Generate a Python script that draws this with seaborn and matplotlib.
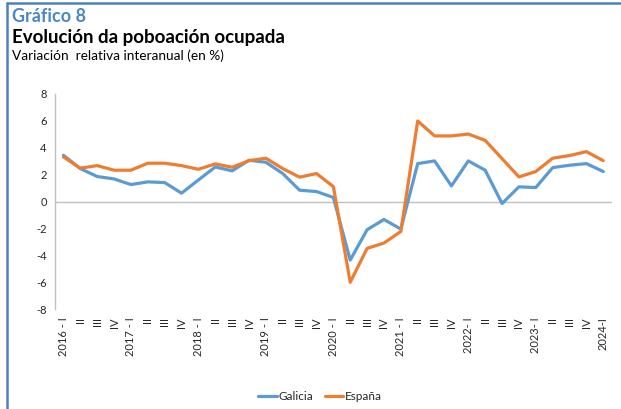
import matplotlib
matplotlib.use("Agg")
import matplotlib.pyplot as plt
import pandas as pd
import seaborn as sns
from matplotlib.lines import Line2D

# quarterly labels 2016-I .. 2024-I
quarters = ["2016 - I", "II", "III", "IV",
            "2017 - I", "II", "III", "IV",
            "2018 - I", "II", "III", "IV",
            "2019 - I", "II", "III", "IV",
            "2020 - I", "II", "III", "IV",
            "2021 - I", "II", "III", "IV",
            "2022- I", "II", "III", "IV",
            "2023- I", "II", "III", "IV",
            "2024-I"]

galicia = [3.44, 2.45, 1.86, 1.68, 1.26, 1.46, 1.41, 0.62,
           1.60, 2.57, 2.28, 3.07, 2.92, 2.08, 0.84, 0.74,
           0.30, -4.36, -2.10, -1.34, -2.05, 2.82, 3.02, 1.16,
           3.02, 2.33, -0.15, 1.09, 1.04, 2.52, 2.70, 2.82,
           2.23]

espana = [3.32, 2.48, 2.67, 2.33, 2.33, 2.85, 2.85, 2.67,
          2.40, 2.80, 2.55, 3.04, 3.22, 2.45, 1.81, 2.08,
          1.11, -6.01, -3.49, -3.09, -2.23, 5.99, 4.88, 4.88,
          5.02, 4.55, 3.19, 1.83, 2.23, 3.22, 3.42, 3.71,
          3.04]

series_names = ["Galicia", "España"]
colors = ["#5B9BD5", "#ED7D31"]

df = pd.DataFrame({"t": list(range(len(quarters))) * 2,
                   "valor": galicia + espana,
                   "serie": ["Galicia"] * len(galicia) + ["España"] * len(espana)})

sns.set_style("white")
plt.rcParams["font.family"] = ["Lato", "DejaVu Sans"]

fig = plt.figure(figsize=(6.21, 4.09), dpi=100)
ax = fig.add_axes([55 / 621, 100 / 409, (611.7 - 55) / 621, 215 / 409])

sns.lineplot(data=df, x="t", y="valor", hue="serie", hue_order=series_names,
             palette=colors, linewidth=2.3, ax=ax, legend=False)

ax.set_xlim(-0.5, len(quarters) - 0.5)
ax.set_ylim(-8, 8)
ax.set_yticks(range(-8, 9, 2))
ax.set_yticklabels([str(v) for v in range(-8, 9, 2)], fontsize=8)
ax.set_xticks(range(len(quarters)))
ax.set_xticklabels(quarters, rotation=90, fontsize=8, va="top")
ax.tick_params(axis="both", length=0, pad=6)
ax.set_xlabel("")
ax.set_ylabel("")

for s in ["top", "right", "bottom"]:
    ax.spines[s].set_visible(False)
ax.spines["left"].set_color("#BFBFBF")
ax.spines["left"].set_linewidth(1)
ax.axhline(0, color="#BFBFBF", linewidth=1, zorder=1)

# legend
handles = [Line2D([], [], color=c, linewidth=2.3) for c in colors]
fig.legend(handles, series_names, loc="center", bbox_to_anchor=(0.515, 0.03),
           ncol=2, frameon=False, fontsize=8.5, handlelength=1.6,
           handletextpad=0.1, columnspacing=1.0)

# titles
fig.text(12 / 621, 1 - 17 / 409, "Gráfico 8", color="#4A86C8",
         fontsize=13, fontweight="bold", va="center")
fig.text(12 / 621, 1 - 38 / 409, "Evolución da poboación ocupada", color="black",
         fontsize=13.5, fontweight="bold", va="center")
fig.text(12 / 621, 1 - 56 / 409, "Variación  relativa interanual (en %)",
         color="black", fontsize=9.8, va="center")

# frame border (left and top)
fig.add_artist(Line2D([7 / 621, 7 / 621], [0, 1 - 3 / 409], color="#4F81BD",
                      linewidth=1.8, transform=fig.transFigure))
fig.add_artist(Line2D([7 / 621, 1], [1 - 3 / 409, 1 - 3 / 409], color="#4F81BD",
                      linewidth=1.8, transform=fig.transFigure))

fig.savefig("out.png", dpi=100)
